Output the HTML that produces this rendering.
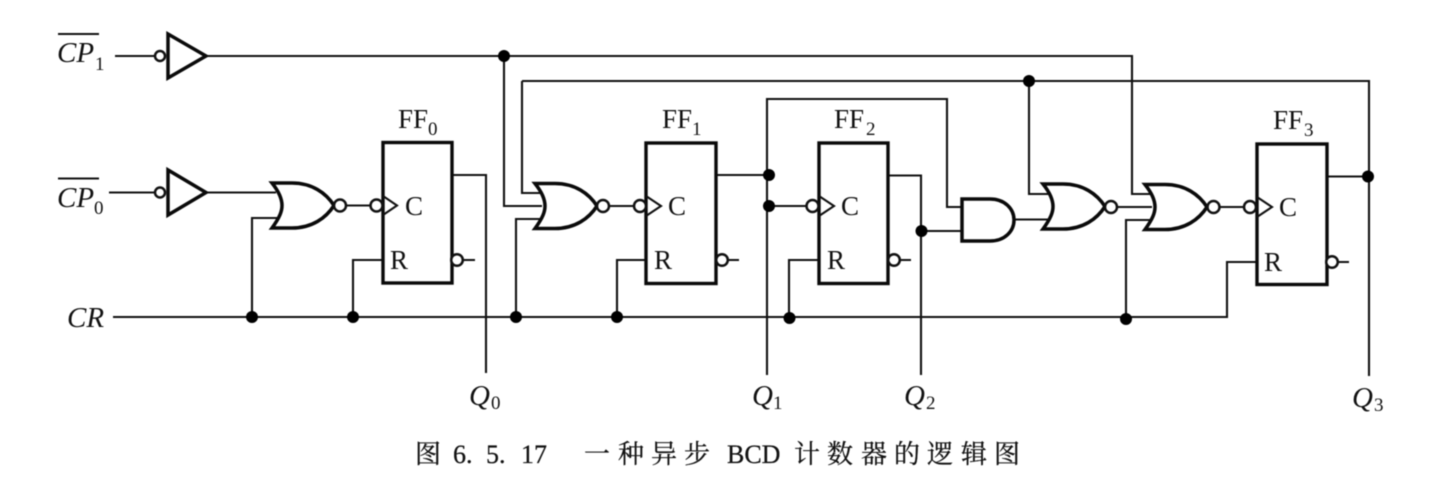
<!DOCTYPE html>
<html>
<head>
<meta charset="utf-8">
<style>
html,body{margin:0;padding:0;background:#fff;width:1448px;height:484px;overflow:hidden}
svg{display:block;filter:blur(.55px)}
.w{fill:none;stroke:#111;stroke-width:2.1}
.b{fill:#fff;stroke:#0a0a0a;stroke-width:3.4}
.g{fill:#fff;stroke:#0a0a0a;stroke-width:3.5;stroke-linejoin:miter}
.c{fill:#fff;stroke:#111;stroke-width:2.5}
.d{fill:#000}
text{font-family:"Liberation Serif","Noto Serif CJK SC",serif;fill:#111}
.i{font-style:italic;font-size:29px}
.l{font-size:27px}
.s{font-size:19px}
.t{font-size:26px;stroke:#111;stroke-width:.25}
</style>
</head>
<body>
<svg width="1448" height="484" viewBox="0 0 1448 484" xmlns="http://www.w3.org/2000/svg">
<defs>
<g id="nor"><path class="g" d="M0,0 H20 C40,0 54,10 62,22.5 C54,35 40,45 20,45 H0 C8,34 10,28 10,22.5 C10,17 8,10 0,0 Z"/></g>
</defs>

<!-- wires -->
<path class="w" d="M115,56 H155 M206,56 H1132 V194 H1150"/>
<path class="w" d="M109,192.5 H155 M206,192.5 H276"/>
<path class="w" d="M504,56 V206 H542"/>
<path class="w" d="M522,81 H1369 V376"/>
<path class="w" d="M522,81 V193 H540"/>
<path class="w" d="M516,317 V219 H541"/>
<path class="w" d="M113,317 H1227 V262 H1256"/>
<path class="w" d="M252,317 V218 H278"/>
<path class="w" d="M353,317 V260 H383"/>
<path class="w" d="M617,317 V260 H646"/>
<path class="w" d="M789,317 V260 H819"/>
<path class="w" d="M1126,319 V220 H1151"/>
<path class="w" d="M452,175 H486 V373"/>
<path class="w" d="M716,175 H769"/>
<path class="w" d="M767,375 V99 H947 V207 H962"/>
<path class="w" d="M769,206 H807"/>
<path class="w" d="M888,175.5 H921 V375"/>
<path class="w" d="M921,231 H962"/>
<path class="w" d="M1014,219.5 H1048"/>
<path class="w" d="M1029,81 V194 H1048"/>
<path class="w" d="M1117,207 H1152"/>
<path class="w" d="M1327,176.5 H1368"/>
<path class="w" d="M345,205.5 H371 M609,206 H635 M1219,207 H1245"/>
<path class="w" d="M462,260 H475 M727,260 H739 M899,260 H911 M1337,262 H1349"/>

<!-- input buffers -->
<polygon class="g" points="168,34 168,78 206,56"/>
<polygon class="g" points="168,170 168,215 206,192.5"/>
<circle class="c" cx="160" cy="56" r="5"/>
<circle class="c" cx="160" cy="192.5" r="5"/>

<!-- NOR gates -->
<use href="#nor" x="272" y="183"/>
<use href="#nor" x="535" y="183.5"/>
<use href="#nor" x="1043" y="184"/>
<use href="#nor" x="1145" y="184.5"/>
<circle class="c" cx="340" cy="205.5" r="6"/>
<circle class="c" cx="603" cy="206" r="6"/>
<circle class="c" cx="1111" cy="207" r="6"/>
<circle class="c" cx="1213.5" cy="207" r="6"/>

<!-- AND gate -->
<path class="g" d="M962,199 H990 C1005,199 1014,209 1014,220 C1014,231 1005,241 990,241 H962 Z"/>

<!-- flip flops -->
<rect class="b" x="383" y="142.5" width="69" height="140.5"/>
<rect class="b" x="646" y="143" width="70" height="140.5"/>
<rect class="b" x="819" y="143" width="69" height="140.5"/>
<rect class="b" x="1257" y="144" width="70" height="140.5"/>

<!-- clock triangles and bubbles -->
<path class="w" d="M383,196 L397,205.5 L383,215"/>
<path class="w" d="M646,196 L661,206 L646,216"/>
<path class="w" d="M819,196 L834,206 L819,216"/>
<path class="w" d="M1257,197 L1272,207 L1257,217"/>
<circle class="c" cx="376.5" cy="205.5" r="6"/>
<circle class="c" cx="640" cy="206" r="6"/>
<circle class="c" cx="812.5" cy="206" r="6"/>
<circle class="c" cx="1250" cy="207" r="6"/>

<circle class="c" cx="457" cy="260" r="5.8"/>
<circle class="c" cx="722" cy="260" r="5.8"/>
<circle class="c" cx="894" cy="260" r="5.8"/>
<circle class="c" cx="1332" cy="262" r="5.8"/>

<!-- junctions -->
<circle class="d" cx="504" cy="56" r="6"/>
<circle class="d" cx="1029" cy="81" r="6"/>
<circle class="d" cx="769" cy="175" r="6"/>
<circle class="d" cx="769" cy="206" r="6"/>
<circle class="d" cx="921.5" cy="231" r="6"/>
<circle class="d" cx="1368" cy="176.5" r="6"/>
<circle class="d" cx="252" cy="317" r="6"/>
<circle class="d" cx="353" cy="317" r="6"/>
<circle class="d" cx="516" cy="317" r="6"/>
<circle class="d" cx="617" cy="317" r="6"/>
<circle class="d" cx="789.5" cy="318" r="6"/>
<circle class="d" cx="1126" cy="319" r="6"/>

<!-- overlines -->
<path class="w" d="M58,34 H99 M58,178.5 H99"/>

<!-- input labels -->
<text class="i" x="57" y="62">CP</text><text class="s" x="95" y="70">1</text>
<text class="i" x="57" y="207">CP</text><text class="s" x="94" y="214">0</text>
<text class="i" x="67" y="327">CR</text>

<!-- FF labels -->
<text class="l" x="398" y="128">FF</text><text class="s" x="428" y="135">0</text>
<text class="l" x="662" y="128">FF</text><text class="s" x="692" y="135">1</text>
<text class="l" x="834" y="128">FF</text><text class="s" x="866" y="135">2</text>
<text class="l" x="1273" y="129">FF</text><text class="s" x="1304" y="136">3</text>

<text class="l" x="405" y="215">C</text>
<text class="l" x="668" y="215">C</text>
<text class="l" x="841" y="215">C</text>
<text class="l" x="1279" y="216">C</text>

<text class="l" x="390" y="269">R</text>
<text class="l" x="654" y="269">R</text>
<text class="l" x="827" y="269">R</text>
<text class="l" x="1264" y="271">R</text>

<!-- Q labels -->
<text class="i" x="469" y="405">Q</text><text class="s" x="491" y="409">0</text>
<text class="i" x="752" y="405">Q</text><text class="s" x="773" y="409">1</text>
<text class="i" x="904" y="405">Q</text><text class="s" x="926" y="409">2</text>
<text class="i" x="1352" y="407">Q</text><text class="s" x="1374" y="411">3</text>

<!-- caption -->
<text class="t" x="415" y="463">图</text>
<text class="t" x="453" y="463">6.</text>
<text class="t" x="486" y="463">5.</text>
<text class="t" x="521" y="463">17</text>
<text class="t" x="584" y="463">一</text>
<text class="t" x="618" y="463">种</text>
<text class="t" x="651" y="463">异</text>
<text class="t" x="684" y="463">步</text>
<text class="t" x="727" y="463">BCD</text>
<text class="t" x="794" y="463">计</text>
<text class="t" x="827" y="463">数</text>
<text class="t" x="861" y="463">器</text>
<text class="t" x="894" y="463">的</text>
<text class="t" x="927" y="463">逻</text>
<text class="t" x="961" y="463">辑</text>
<text class="t" x="994" y="463">图</text>
</svg>
</body>
</html>
